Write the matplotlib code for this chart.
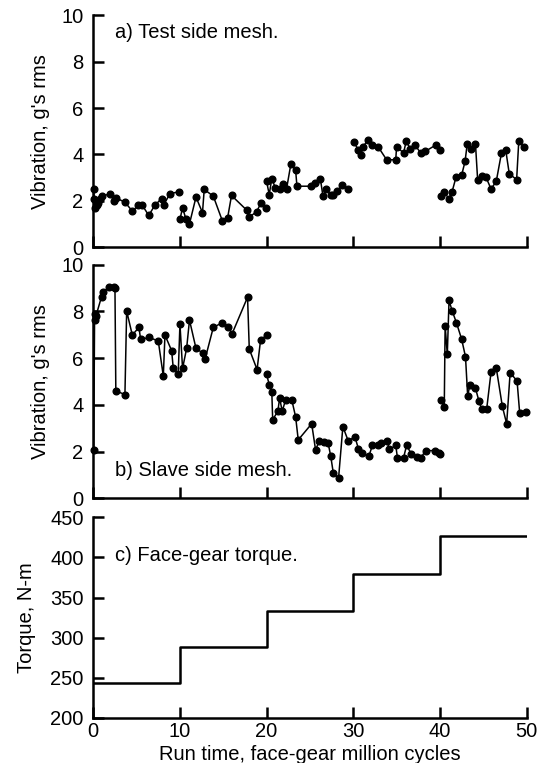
import numpy as np
import matplotlib
matplotlib.use("Agg")
import matplotlib.pyplot as plt

plt.rcParams['font.family'] = ['Liberation Sans', 'DejaVu Sans']

# a) test side mesh, NaN marks a break in the trace
test_x = [0.05, 0.1, 0.2, 0.4, 0.6, 0.8, 1.0, 1.9, 2.4, 2.6, 3.65, 4.5, 5.2, 5.6, 6.4, 7.1, 7.9,
          8.15, 8.85, 9.9, np.nan,
          10.0, 10.3, 10.7, 11.1, 11.85, 12.6, 12.8, 13.85, 14.9, 15.5, 15.95, 17.7, 18.0, 18.85,
          19.35, 19.95, np.nan,
          20.0, 20.3, 20.6, 21.0, 21.5, 21.85, 22.3, 22.8, 23.35, 23.5, 25.1, 25.6, 26.2, 26.5,
          26.9, 27.4, 27.7, 28.1, 28.7, 29.4, np.nan,
          30.1, 30.6, 30.85, 31.15, 31.7, 32.2, 32.9, 33.85, 34.9, 35.0, 35.8, 36.1, 36.6, 37.1,
          37.8, 38.3, 39.5, 40.0, np.nan,
          40.1, 40.5, 41.0, 41.4, 41.85, 42.5, 42.9, 43.15, 43.55, 44.1, 44.35, 44.85, 45.3, 45.9,
          46.5, 47.1, 47.6, 48.0, 48.85, 49.1, 49.7]
test_y = [2.5, 2.06, 1.7, 1.84, 1.9, 2.06, 2.2, 2.3, 1.99, 2.13, 1.94, 1.56, 1.8, 1.84, 1.37, 1.81,
          2.1, 1.84, 2.31, 2.39, np.nan,
          1.2, 1.7, 1.2, 1.01, 2.16, 1.49, 2.49, 2.2, 1.13, 1.27, 2.23, 1.6, 1.3, 1.53,
          1.91, 1.67, np.nan,
          2.84, 2.27, 2.96, 2.56, 2.49, 2.74, 2.51, 3.59, 3.31, 2.63, 2.63, 2.77, 2.96, 2.2,
          2.53, 2.23, 2.27, 2.41, 2.67, 2.53, np.nan,
          4.53, 4.17, 3.99, 4.34, 4.63, 4.39, 4.31, 3.77, 3.77, 4.34, 4.06, 4.56, 4.24, 4.41,
          4.06, 4.13, 4.4, 4.2, np.nan,
          2.2, 2.39, 2.1, 2.39, 3.01, 3.1, 3.7, 4.46, 4.23, 4.46, 2.91, 3.06, 3.03, 2.51,
          2.84, 4.06, 4.17, 3.17, 2.91, 4.59, 4.3]

# b) slave side mesh
slave_x = [0.05, 0.15, 0.2, 0.3, 0.96, 1.15, 1.85, 2.4, 2.5, 2.6, 3.65, 3.85, 4.5, 5.27, 5.46,
           6.46, 7.5, 8.08, 8.27, 9.04, 9.23, 9.8, 10.0, 10.3, 10.77, 11.1, 11.85, 12.7, 12.9,
           13.85, 14.9, 15.6, 16.0, 17.8, 18.0, 18.9, 19.3, 20.0, np.nan,
           20.0, 20.3, 20.6, 20.7, 21.3, 21.5, 21.8, 22.2, 22.9, 23.35, 23.65, 25.2, 25.65, 26.1,
           26.6, 27.1, 27.4, 27.7, 28.3, 28.8, 29.4, 30.2, 30.6, 31.0, 31.8, 32.2, 32.9, 33.15,
           33.9, 34.15, 34.9, 35.1, 35.8, 36.15, 36.7, 37.3, 37.8, 38.35, 39.4, 39.9, 40.05, np.nan,
           40.1, 40.5, 40.6, 40.85, 41.05, 41.4, 41.9, 42.5, 42.95, 43.2, 43.45, 44.1, 44.5,
           44.8, 45.4, 45.9, 46.5, 47.2, 47.7, 48.1, 48.9, 49.2, 49.9]
slave_y = [2.05, 7.9, 7.65, 7.8, 8.64, 8.85, 9.04, 9.04, 9.0, 4.6, 4.44, 8.02, 6.99, 7.32, 6.8,
           6.89, 6.73, 5.23, 6.99, 6.32, 5.56, 5.34, 7.46, 5.56, 6.42, 7.63, 6.42, 6.2, 5.96,
           7.32, 7.52, 7.35, 7.03, 8.61, 6.39, 5.51, 6.77, 6.99, np.nan,
           5.3, 4.87, 4.55, 3.36, 3.73, 4.29, 3.73, 4.22, 4.22, 3.48, 2.5, 3.19, 2.07, 2.47,
           2.4, 2.36, 1.8, 1.07, 0.85, 3.07, 2.47, 2.62, 2.11, 1.94, 1.8, 2.26, 2.26, 2.36,
           2.47, 2.09, 2.26, 1.73, 1.73, 2.26, 1.9, 1.76, 1.73, 2.04, 2.04, 1.94, 1.9, np.nan,
           4.19, 3.9, 7.39, 6.16, 8.47, 8.04, 7.52, 6.82, 6.06, 4.38, 4.84, 4.72, 4.16,
           3.84, 3.84, 5.41, 5.58, 3.94, 3.19, 5.37, 5.03, 3.66, 3.69]

# c) torque steps
step_x = [0, 10, 20, 30, 40, 50]
step_torque = [243, 288, 333, 379, 427, 427]

x_ticks = [0, 10, 20, 30, 40, 50]
vib_ticks = [0, 2, 4, 6, 8, 10]
torque_ticks = [200, 250, 300, 350, 400, 450]

fig = plt.figure(figsize=(5.44, 7.63), dpi=100)
left, width = 0.1715, 0.7965
ax_a = fig.add_axes([left, 0.676, width, 0.304])
ax_b = fig.add_axes([left, 0.347, width, 0.306])
ax_c = fig.add_axes([left, 0.059, width, 0.263])

fs = 14.5

def style(ax):
    for s in ['top', 'right']:
        ax.spines[s].set_visible(False)
    for s in ['left', 'bottom']:
        ax.spines[s].set_linewidth(1.8)
    ax.tick_params(direction='in', length=8, width=1.8, labelsize=fs)
    ax.tick_params(axis='y', pad=7)
    ax.set_xlim(0, 50)
    ax.set_xticks(x_ticks)

for ax, xs, ys in [(ax_a, test_x, test_y), (ax_b, slave_x, slave_y)]:
    style(ax)
    ax.plot(xs, ys, color='black', lw=1.1, marker='o', ms=4.8, clip_on=False)
    ax.set_ylim(0, 10)
    ax.set_yticks(vib_ticks)
    ax.set_ylabel("Vibration, g's rms", fontsize=fs, labelpad=8)
    ax.tick_params(axis='x', labelbottom=False)

ax_a.text(2.5, 9.27, "a) Test side mesh.", fontsize=fs, va='center', ha='left')
ax_b.text(2.5, 1.18, "b) Slave side mesh.", fontsize=fs, va='center', ha='left')

style(ax_c)
ax_c.step(step_x, step_torque, where='post', color='black', lw=1.8)
ax_c.set_ylim(200, 450)
ax_c.set_yticks(torque_ticks)
ax_c.set_ylabel("Torque, N-m", fontsize=fs, labelpad=10)
ax_c.set_xlabel("Run time, face-gear million cycles", fontsize=fs, labelpad=3)
ax_c.tick_params(axis='x', pad=3)
ax_c.text(2.5, 402, "c) Face-gear torque.", fontsize=fs, va='center', ha='left')

fig.savefig("out.png", dpi=100)
